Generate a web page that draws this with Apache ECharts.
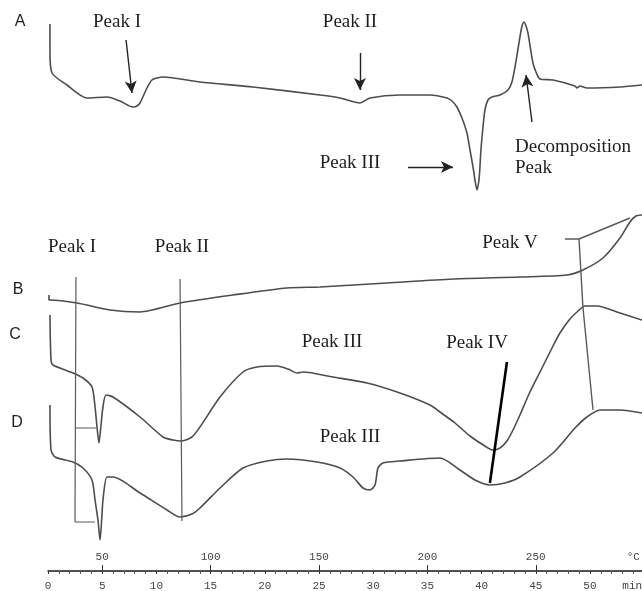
<!DOCTYPE html>
<html>
<head>
<meta charset="utf-8">
<title>DSC thermograms</title>
<script src="https://cdn.jsdelivr.net/npm/echarts@6/dist/echarts.min.js"></script>
<style>
  html, body { margin: 0; padding: 0; background: #fff; }
  #chart { width: 642px; height: 591px; }
</style>
</head>
<body>
<div id="chart"></div>
<script>
// Time axis (min) and the matching temperature scale (°C), heating at 5 °C/min from 25 °C
const minTicks = [0, 5, 10, 15, 20, 25, 30, 35, 40, 45, 50];
const tempTicks = [50, 100, 150, 200, 250];

// Heat-flow traces, [time (min), signal (arb. units)], each trace offset vertically
const curveA = [
  [0.18, 109.4], [0.18, 103.8], [0.37, 99.6], [1.75, 97.2], [3.60, 94.6], [5.44, 94.8],
  [6.64, 94.0], [7.84, 92.8], [8.21, 93.0], [8.49, 93.6], [9.13, 96.6], [9.59, 98.2],
  [10.06, 98.6], [10.61, 98.8], [14.02, 97.8], [18.91, 96.8], [25.09, 95.2], [26.94, 94.6],
  [28.78, 93.6], [29.70, 94.6], [32.47, 95.2], [35.24, 95.2], [36.81, 94.6], [37.27, 94.0],
  [37.73, 92.8], [38.19, 90.6], [38.65, 87.6], [38.93, 84.2], [39.21, 80.8], [39.39, 78.2],
  [39.58, 76.2], [39.76, 78.2], [39.85, 80.8], [39.94, 84.2], [40.13, 88.8], [40.31, 92.2],
  [40.59, 94.2], [40.96, 94.8], [41.70, 95.2], [42.44, 96.2], [42.80, 97.8], [43.08, 100.8],
  [43.27, 103.2], [43.54, 106.8], [43.73, 109.0], [43.91, 109.8], [44.10, 109.0],
  [44.28, 107.6], [44.46, 105.2], [44.74, 101.6], [45.02, 99.8], [45.39, 98.4],
  [46.59, 98.2], [48.62, 97.0], [48.80, 96.6], [49.08, 97.0], [49.72, 96.6], [52.77, 96.8],
  [54.80, 97.2]
];
const curveB = [
  [0.09, 55.2], [0.09, 54.2], [0.18, 54.2], [2.68, 53.6], [5.72, 52.2], [8.49, 51.8],
  [12.18, 53.6], [17.07, 55.2], [22.05, 56.6], [25.09, 56.8], [31.27, 57.6], [37.36, 58.4],
  [43.54, 58.8], [47.88, 59.2], [49.35, 60.2], [51.20, 62.6], [52.77, 66.6], [53.69, 69.8],
  [54.24, 71.0], [54.80, 71.2]
];
const curveC = [
  [0.18, 51.2], [0.28, 42.2], [0.46, 41.2], [2.31, 39.6], [3.23, 38.6], [4.06, 36.8],
  [4.34, 32.8], [4.52, 28.8], [4.70, 25.6], [4.89, 29.2], [5.07, 32.8], [5.35, 35.2],
  [6.00, 34.8], [8.49, 30.8], [10.61, 26.8], [11.53, 26.2], [12.36, 26.0], [13.28, 26.8],
  [14.02, 28.8], [15.87, 34.8], [17.99, 39.8], [19.28, 40.8], [21.13, 41.0], [22.14, 40.4],
  [22.97, 39.6], [23.52, 39.8], [26.29, 38.8], [29.43, 37.6], [32.47, 35.6], [35.24, 33.2],
  [36.16, 31.8], [37.55, 29.6], [38.93, 27.0], [40.31, 25.0], [41.05, 24.2], [41.70, 24.6],
  [42.34, 26.0], [42.90, 28.2], [43.54, 31.2], [44.46, 35.8], [45.39, 39.8], [46.59, 45.0],
  [47.23, 47.6], [48.15, 50.4], [48.80, 51.8], [49.54, 53.0], [50.65, 53.0], [52.77, 51.6],
  [54.80, 50.2]
];
const curveD = [
  [0.18, 33.2], [0.28, 24.2], [0.65, 22.8], [2.31, 21.8], [3.23, 20.6], [4.06, 18.2],
  [4.34, 14.2], [4.61, 10.2], [4.80, 6.2], [4.98, 11.2], [5.07, 14.2], [5.44, 18.8],
  [6.00, 18.8], [8.49, 15.6], [10.98, 12.2], [12.18, 10.8], [13.28, 11.4], [14.02, 12.6],
  [15.87, 16.6], [17.99, 20.6], [20.20, 22.0], [22.05, 22.4], [24.82, 21.8], [26.94, 20.6],
  [28.14, 18.8], [29.06, 16.6], [29.70, 16.2], [30.17, 17.2], [30.44, 20.6], [30.90, 21.6],
  [32.47, 22.0], [36.16, 22.6], [38.01, 20.2], [39.39, 18.2], [40.77, 17.2], [42.16, 17.6],
  [43.54, 18.8], [46.59, 23.6], [48.62, 28.6], [49.72, 30.8], [50.92, 32.2], [52.77, 32.2],
  [54.80, 31.6]
];

// Peak marker lines for traces B–D
const peakIMain = [[2.58, 58.8], [2.49, 9.8]];
const peakIUpper = [[2.49, 28.6], [4.43, 28.6]];
const peakILower = [[2.49, 9.8], [4.34, 9.8]];
const peakIILine = [[12.18, 58.4], [12.36, 10.0]];
const peakIVLine = [[42.34, 41.8], [40.77, 17.6]];
const peakVLine = [[47.69, 66.4], [48.99, 66.4], [49.35, 52.8], [50.28, 32.2]];
const peakVBranch = [[48.99, 66.4], [53.69, 70.6]];

// Arrows pointing at the peaks of trace A
const arrowPeakI = [[7.20, 106.2], [7.75, 95.6]];
const arrowPeakII = [[28.78, 103.6], [28.78, 96.2]];
const arrowPeakIII = [[33.21, 80.8], [37.36, 80.8]];
const arrowDecomp = [[44.65, 89.8], [44.10, 99.2]];

const curveColor = '#4d4d4d';
const guideColor = '#5a5a5a';
const serif = '19px "Liberation Serif", "DejaVu Serif", serif';
const sans = '16px "Liberation Sans", Arial, sans-serif';

function trace(data) {
  return {
    type: 'line', data: data, symbol: 'none', smooth: 0.25,
    lineStyle: { color: curveColor, width: 1.6 }, silent: true
  };
}
function guide(data, color, width) {
  return {
    type: 'line', data: data, symbol: 'none', smooth: false,
    lineStyle: { color: color, width: width }, silent: true
  };
}
function arrow(pts) {
  return [{ coord: pts[0] }, { coord: pts[1] }];
}
function label(text, x, y, font, align) {
  return {
    type: 'text', x: x, y: y, silent: true,
    style: {
      text: text, font: font, fill: '#1e1e1e',
      align: align || 'center', verticalAlign: 'middle',
      textAlign: align || 'center', textVerticalAlign: 'middle'
    }
  };
}

const chart = echarts.init(document.getElementById('chart'), null, { renderer: 'canvas' });
chart.setOption({
  animation: false,
  backgroundColor: '#fff',
  grid: { left: 48, right: 0, top: 0, bottom: 20, containLabel: false, outerBoundsMode: 'none' },
  xAxis: [
    {
      type: 'value', min: 0, max: 54.8, interval: 5, position: 'bottom',
      axisLine: { show: true, lineStyle: { color: '#1a1a1a', width: 1.5 } },
      axisTick: { show: true, length: 3, lineStyle: { color: '#333', width: 1 } },
      minorTick: { show: true, splitNumber: 5, length: 3, lineStyle: { color: '#555', width: 1 } },
      splitLine: { show: false },
      axisLabel: {
        show: true, margin: 10, color: '#444', hideOverlap: false,
        fontFamily: '"Liberation Mono", "DejaVu Sans Mono", monospace', fontSize: 11,
        customValues: minTicks.concat([53.9]),
        formatter: function (v) { return v > 52 ? 'min' : String(v); }
      }
    },
    {
      type: 'value', min: 25, max: 299, position: 'bottom',
      axisLine: { show: false },
      axisTick: { show: true, inside: true, length: 6, customValues: tempTicks,
        lineStyle: { color: '#333', width: 1 } },
      splitLine: { show: false },
      axisLabel: {
        show: true, inside: true, margin: 8, color: '#444', hideOverlap: false,
        fontFamily: '"Liberation Mono", "DejaVu Sans Mono", monospace', fontSize: 11,
        customValues: tempTicks.concat([295]),
        formatter: function (v) { return v > 280 ? '°C' : String(v); }
      }
    }
  ],
  yAxis: { type: 'value', min: 0, max: 114.2, show: false },
  series: [
    trace(curveA), trace(curveB), trace(curveC), trace(curveD),
    guide(peakIMain, guideColor, 1.2), guide(peakIUpper, guideColor, 1.2),
    guide(peakILower, guideColor, 1.2), guide(peakIILine, guideColor, 1.2),
    guide(peakVLine, guideColor, 1.4), guide(peakVBranch, guideColor, 1.4),
    guide(peakIVLine, '#000', 2.6),
    {
      type: 'line', data: [], symbol: 'none', silent: true,
      markLine: {
        silent: true, symbol: ['none', 'arrow'], symbolSize: [9, 12], animation: false,
        label: { show: false },
        lineStyle: { color: '#222', width: 1.4, type: 'solid' },
        data: [arrow(arrowPeakI), arrow(arrowPeakII), arrow(arrowPeakIII), arrow(arrowDecomp)]
      }
    }
  ],
  graphic: [
    label('A', 20, 22, sans),
    label('Peak I', 117, 22, serif),
    label('Peak II', 350, 22, serif),
    label('Peak III', 350, 163, serif),
    label('Decomposition', 515, 147, serif, 'left'),
    label('Peak', 515, 168, serif, 'left'),
    label('Peak I', 72, 247, serif),
    label('Peak II', 182, 247, serif),
    label('Peak V', 510, 243, serif),
    label('B', 18, 290, sans),
    label('C', 15, 335, sans),
    label('Peak III', 332, 342, serif),
    label('Peak IV', 477, 343, serif),
    label('D', 17, 423, sans),
    label('Peak III', 350, 437, serif)
  ]
});
</script>
</body>
</html>
